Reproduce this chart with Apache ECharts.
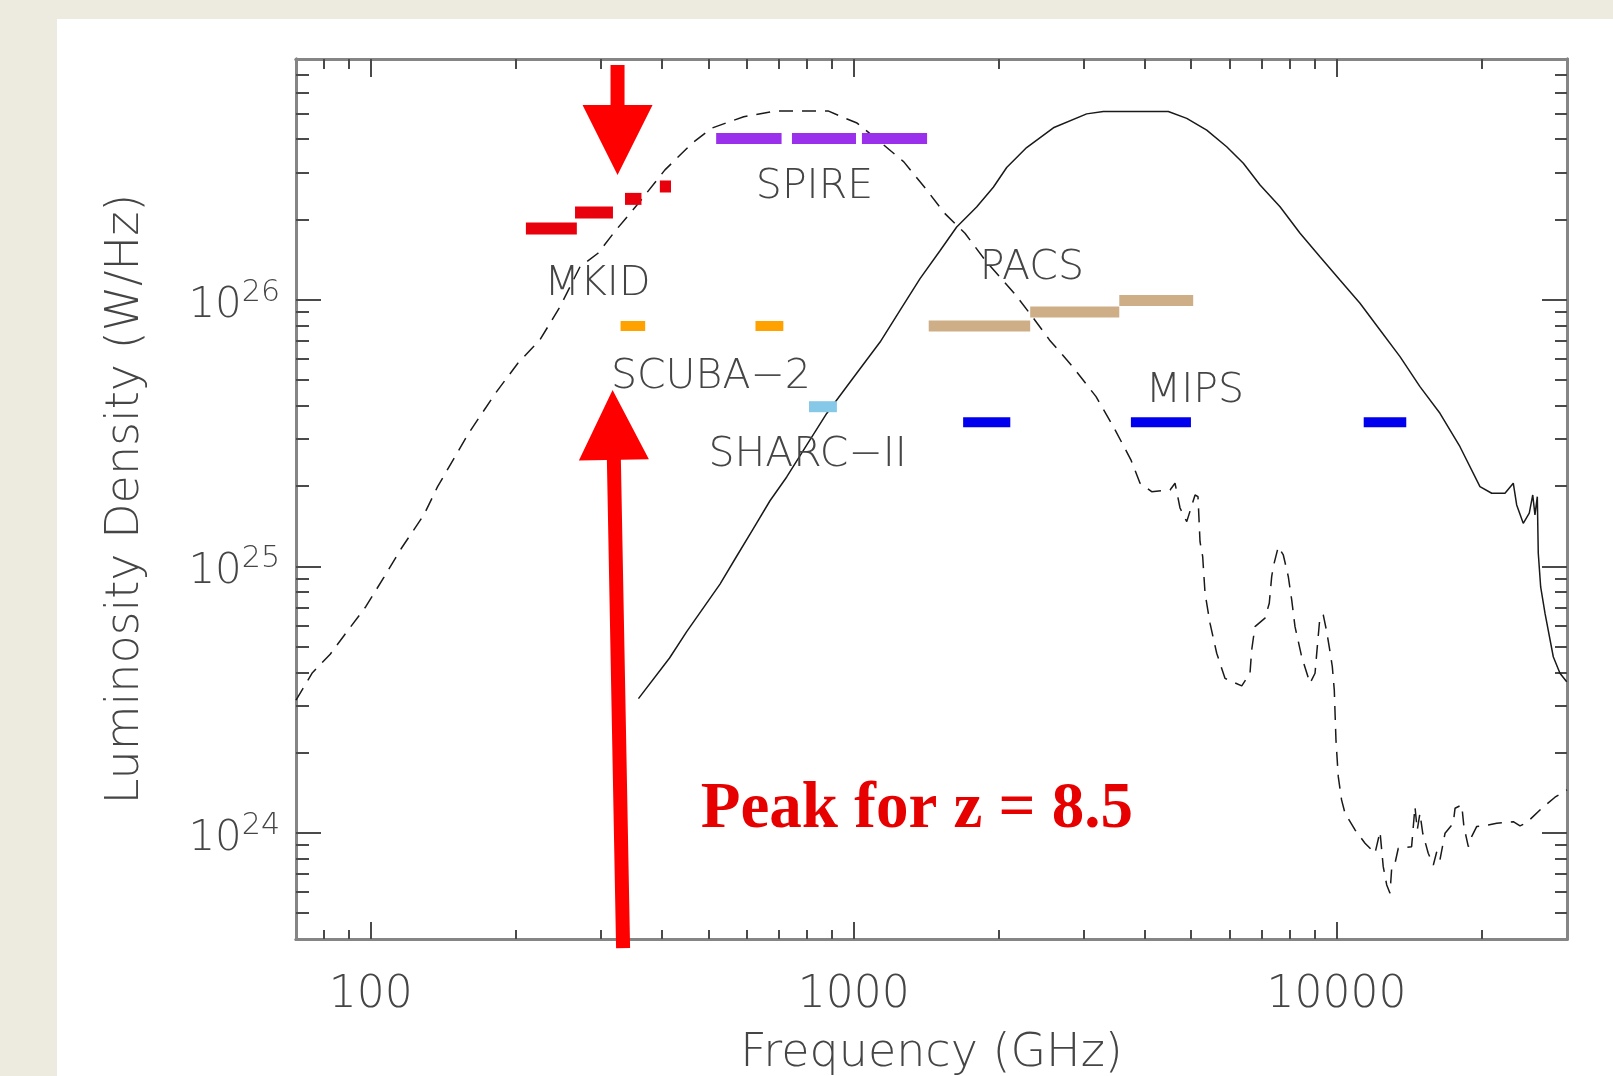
<!DOCTYPE html>
<html>
<head>
<meta charset="utf-8">
<script src="https://cdn.jsdelivr.net/npm/echarts@6/dist/echarts.min.js"></script>
<style>
html,body{margin:0;padding:0;background:#EDEAE0;}
#chart{width:1613px;height:1076px;}
</style>
</head>
<body>
<div id="chart"></div>
<script>
// ---------------- DATA (frequency in GHz, luminosity density in W/Hz) ----------------
// dashed SED (redshifted galaxy template)
const dashedFreq = [70, 75.7, 82.4, 87.9, 97.7, 106.5, 115.9, 128.9, 137.5, 159.5, 181.2, 201.6, 224, 246.5, 271.2, 295.4, 322, 358.3, 406.6, 462.6, 507.8, 591.9, 689.5, 884.8, 962.1, 1016, 1123, 1270, 1398, 1543, 1700, 1870, 2151, 2371, 2543, 2841, 3176, 3450, 3750, 3917, 4141, 4519, 4628, 4740, 4894, 5092, 5164, 5214, 5281, 5340, 5468, 5646, 5873, 6362, 6617, 6671, 6776, 7107, 7254, 7338, 7394, 7573, 7756, 7943, 8073, 8201, 8467, 8809, 9023, 9120, 9238, 9384, 9539, 9690, 9797, 9890, 9970, 10080, 10240, 10410, 10920, 11450, 12010, 12300, 12490, 12700, 12900, 13010, 13210, 13420, 14300, 14530, 14690, 14880, 15080, 15480, 15860, 16120, 16370, 16770, 17440, 17590, 18160, 18350, 18740, 19040, 19500, 20610, 21460, 23220, 23980, 24750, 26590, 28330, 30000];
const dashedLum = [3.15e24, 3.99e24, 4.68e24, 5.48e24, 7.07e24, 9.11e24, 1.174e25, 1.563e25, 1.99e25, 3.16e25, 4.46e25, 5.78e25, 7.07e25, 9.42e25, 1.33e26, 1.494e26, 1.827e26, 2.30e26, 3.07e26, 3.86e26, 4.40e26, 4.86e26, 5.11e26, 5.11e26, 4.79e26, 4.60e26, 3.97e26, 3.29e26, 2.66e26, 2.11e26, 1.776e26, 1.41e26, 1.057e26, 8.40e25, 7.07e25, 5.61e25, 4.33e25, 3.34e25, 2.51e25, 2.05e25, 1.906e25, 1.934e25, 2.05e25, 1.655e25, 1.471e25, 1.852e25, 1.825e25, 1.237e25, 1.087e25, 7.93e24, 6.12e24, 4.72e24, 3.80e24, 3.56e24, 3.97e24, 4.86e24, 5.94e24, 6.39e24, 7.27e24, 9.15e24, 9.97e24, 1.185e25, 1.103e25, 9.15e24, 7.48e24, 5.94e24, 4.58e24, 3.64e24, 3.97e24, 4.99e24, 6.48e24, 6.57e24, 5.69e24, 4.79e24, 4.21e24, 3.44e24, 2.23e24, 1.626e24, 1.33e24, 1.185e24, 1.026e24, 9.15e23, 8.39e23, 1.011e24, 7.47e23, 6.38e23, 5.94e23, 7.47e23, 7.69e23, 8.76e23, 8.88e23, 1.254e24, 1.026e24, 1.185e24, 9.97e23, 8.39e23, 7.58e23, 8.50e23, 7.92e23, 9.97e23, 1.087e24, 1.237e24, 1.273e24, 1.056e24, 8.88e23, 9.68e23, 1.056e24, 1.071e24, 1.087e24, 1.102e24, 1.062e24, 1.093e24, 1.237e24, 1.361e24, 1.449e24];
// solid SED (local galaxy template)
const solidFreq = [358.3, 415.6, 451.0, 528.6, 572.3, 619.7, 670.9, 726.6, 799.1, 879.2, 998.1, 1134, 1247, 1372, 1509, 1634, 1797, 1946, 2074, 2281, 2591, 3037, 3288, 4482, 4894, 5383, 5921, 6410, 6942, 7636, 8401, 9238, 10160, 11180, 12300, 13530, 14880, 16370, 18010, 19810, 20950, 22320, 23220, 23600, 24350, 25060, 25480, 25750, 26040, 26160, 26460, 27010, 28100, 29010, 29960];
const solidLum = [3.19e24, 4.53e24, 5.69e24, 8.58e24, 1.091e25, 1.386e25, 1.762e25, 2.164e25, 2.848e25, 3.745e25, 5.10e25, 6.94e25, 9.13e25, 1.20e26, 1.527e26, 1.875e26, 2.227e26, 2.642e26, 3.135e26, 3.723e26, 4.416e26, 4.98e26, 5.08e26, 5.08e26, 4.79e26, 4.33e26, 3.75e26, 3.25e26, 2.695e26, 2.234e26, 1.776e26, 1.451e26, 1.186e26, 9.70e25, 7.70e25, 6.12e25, 4.72e25, 3.75e25, 2.81e25, 1.99e25, 1.88e25, 1.88e25, 2.05e25, 1.70e25, 1.45e25, 1.582e25, 1.852e25, 1.559e25, 1.825e25, 1.119e25, 8.37e24, 6.67e24, 4.58e24, 3.97e24, 3.69e24];

// instrument bands: [freqLow, freqHigh, level]
const mkidBands  = [[209.5, 267.1, 1.85e26], [264.8, 317.3, 2.125e26], [336, 363.5, 2.39e26], [396.8, 418.5, 2.66e26]];
const spireBands = [[519, 709, 4.03e26], [745, 1011, 4.03e26], [1040, 1419, 4.03e26]];
const scubaBands = [[329, 370, 7.97e25], [626, 715, 7.97e25]];
const pacsBands  = [[1430, 2320, 7.97e25], [2320, 3548, 9.0e25], [3548, 5047, 9.94e25]];
const sharcBands = [[808, 923, 3.97e25]];
const mipsBands  = [[1685, 2110, 3.47e25], [3750, 4993, 3.47e25], [11380, 13940, 3.47e25]];

// text annotations: name + [freq, level]
const labelNames = ['SPIRE', 'MKID', 'PACS', 'SCUBA\u22122', 'MIPS', 'SHARC\u2212II'];
const labelFreq  = [829.4, 294.8, 2339, 506.2, 5089, 803];
const labelLum   = [2.74e26, 1.186e26, 1.36e26, 5.30e25, 4.69e25, 2.69e25];
const peakText = 'Peak for z = 8.5';
const peakPos = [1352, 1.273e24];

// arrows: [tailFreq, tailLum, tipFreq, tipLum]
const arrows = [[324.3, 7.6e26, 324.3, 2.94e26], [333, 3.70e23, 316.7, 4.59e25]];

// axes
const xRange = [70, 30000];
const yRange = [4e23, 8e26];
const xMajorTicks = [100, 1000, 10000];
const xMinorTicks = [80, 90, 200, 300, 400, 500, 600, 700, 800, 900, 2000, 3000, 4000, 5000, 6000, 7000, 8000, 9000, 20000];
const yMajorTicks = [1e24, 1e25, 1e26];
const yMinorTicks = [5e23, 6e23, 7e23, 8e23, 9e23, 2e24, 3e24, 4e24, 5e24, 6e24, 7e24, 8e24, 9e24, 2e25, 3e25, 4e25, 5e25, 6e25, 7e25, 8e25, 9e25, 2e26, 3e26, 4e26, 5e26, 6e26, 7e26];
const xTitle = 'Frequency (GHz)';
const yTitle = 'Luminosity Density (W/Hz)';

// ---------------- CHART ----------------
const FONT = 'DejaVu Sans';
const TXT = '#454545';
const AXIS_COLOR = '#858585';
const TICK_COLOR = '#4a4a4a';

function zip(a, b) { return a.map((v, i) => [v, b[i]]); }

function xAxisDef(pos, ticks, len, withLabel) {
  return {
    type: 'log', logBase: 10, min: xRange[0], max: xRange[1], position: pos, gridIndex: 0,
    axisLine: { show: true, onZero: false, lineStyle: { color: AXIS_COLOR, width: 3 } },
    axisTick: { show: true, inside: true, length: len, customValues: ticks, lineStyle: { color: TICK_COLOR, width: 2 } },
    axisLabel: withLabel ? {
      show: true, customValues: ticks, margin: 35,
      fontFamily: FONT, fontSize: 44, color: TXT, fontWeight: 200,
      formatter: v => String(Math.round(v))
    } : { show: false },
    splitLine: { show: false }, minorTick: { show: false }, minorSplitLine: { show: false },
    name: withLabel ? xTitle : '', nameLocation: 'middle', nameGap: 92,
    nameTextStyle: { fontFamily: FONT, fontSize: 46, color: TXT, fontWeight: 200 }
  };
}
function yAxisDef(pos, ticks, len, withLabel) {
  return {
    type: 'log', logBase: 10, min: yRange[0], max: yRange[1], position: pos, gridIndex: 0,
    axisLine: { show: true, onZero: false, lineStyle: { color: AXIS_COLOR, width: 3 } },
    axisTick: { show: true, inside: true, length: len, customValues: ticks, lineStyle: { color: TICK_COLOR, width: 2 } },
    axisLabel: withLabel ? {
      show: true, customValues: ticks, margin: 16, padding: [12, 0, 0, 0],
      formatter: v => '{b|10}{s|' + Math.round(Math.log10(v)) + '}',
      rich: {
        b: { fontFamily: FONT, fontSize: 42, color: TXT, fontWeight: 200, lineHeight: 56 },
        s: { fontFamily: FONT, fontSize: 30, color: TXT, fontWeight: 200, lineHeight: 40, verticalAlign: 'top' }
      }
    } : { show: false },
    splitLine: { show: false }, minorTick: { show: false }, minorSplitLine: { show: false },
    name: withLabel ? yTitle : '', nameLocation: 'middle', nameGap: 147,
    nameTextStyle: { fontFamily: FONT, fontSize: 46, color: TXT, fontWeight: 200 }
  };
}

function bandSeries(name, bands, color, h) {
  return {
    type: 'custom', name: name, coordinateSystem: 'cartesian2d', xAxisIndex: 0, yAxisIndex: 0,
    data: bands, encode: { x: [0, 1], y: 2 }, z: 4, silent: true,
    itemStyle: { color: color },
    renderItem: function (params, api) {
      const a = api.coord([api.value(0), api.value(2)]);
      const b = api.coord([api.value(1), api.value(2)]);
      return { type: 'rect', shape: { x: a[0], y: a[1] - h / 2, width: b[0] - a[0], height: h }, style: { fill: color } };
    }
  };
}

const chart = echarts.init(document.getElementById('chart'), null, { renderer: 'canvas' });
const option = {
  animation: false,
  backgroundColor: '#EDEAE0',
  graphic: [{ type: 'rect', left: 57, top: 19, shape: { width: 1556, height: 1057 }, style: { fill: '#ffffff' }, z: -10, silent: true }],
  grid: { left: 296, top: 59, width: 1271, height: 880, containLabel: false, outerBoundsMode: 'none' },
  xAxis: [
    xAxisDef('bottom', xMajorTicks, 17, true),
    xAxisDef('bottom', xMinorTicks, 9, false),
    xAxisDef('top', xMajorTicks, 18, false),
    xAxisDef('top', xMinorTicks, 10, false)
  ],
  yAxis: [
    yAxisDef('left', yMajorTicks, 25, true),
    yAxisDef('left', yMinorTicks, 13, false),
    yAxisDef('right', yMajorTicks, 25, false),
    yAxisDef('right', yMinorTicks, 12, false)
  ],
  series: [
    {
      type: 'line', name: 'dashed', xAxisIndex: 0, yAxisIndex: 0, data: zip(dashedFreq, dashedLum),
      showSymbol: false, symbol: 'none', z: 3, silent: true,
      lineStyle: { color: '#1a1a1a', width: 1.5, type: [14, 9] }
    },
    {
      type: 'line', name: 'solid', xAxisIndex: 0, yAxisIndex: 0, data: zip(solidFreq, solidLum),
      showSymbol: false, symbol: 'none', z: 3, silent: true,
      lineStyle: { color: '#1a1a1a', width: 1.5 }
    },
    bandSeries('MKID', mkidBands, '#E8000C', 12),
    bandSeries('SPIRE', spireBands, '#9A30EC', 11),
    bandSeries('SCUBA-2', scubaBands, '#FFA200', 10),
    bandSeries('PACS', pacsBands, '#CDAE86', 11),
    bandSeries('SHARC-II', sharcBands, '#86C8E8', 11),
    bandSeries('MIPS', mipsBands, '#0000EE', 10),
    {
      type: 'custom', name: 'labels', xAxisIndex: 0, yAxisIndex: 0, z: 5, silent: true,
      data: zip(labelFreq, labelLum), encode: { x: 0, y: 1 },
      renderItem: function (params, api) {
        const p = api.coord([api.value(0), api.value(1)]);
        return { type: 'text', x: p[0], y: p[1] + 4, style: {
          text: labelNames[params.dataIndex], fill: TXT, fontFamily: FONT, fontSize: 41, fontWeight: 200,
          align: 'center', verticalAlign: 'middle' } };
      }
    },
    {
      type: 'custom', name: 'peak', xAxisIndex: 0, yAxisIndex: 0, z: 6, silent: true,
      data: [peakPos], encode: { x: 0, y: 1 },
      renderItem: function (params, api) {
        const p = api.coord([api.value(0), api.value(1)]);
        return { type: 'text', x: p[0], y: p[1] + 5, style: {
          text: peakText, fill: '#E60000', fontFamily: 'Liberation Serif', fontSize: 65, fontWeight: 'bold',
          align: 'center', verticalAlign: 'middle' } };
      }
    },
    {
      type: 'custom', name: 'arrows', xAxisIndex: 0, yAxisIndex: 0, z: 7, silent: true, clip: false,
      data: arrows, encode: { x: [0, 2], y: [1, 3] },
      renderItem: function (params, api) {
        const t = api.coord([api.value(0), api.value(1)]);
        const p = api.coord([api.value(2), api.value(3)]);
        const dx = p[0] - t[0], dy = p[1] - t[1];
        const len = Math.sqrt(dx * dx + dy * dy);
        const ux = dx / len, uy = dy / len, nx = -uy, ny = ux;
        const hw = 7, HW = 35, HL = 70;
        const bx = p[0] - ux * HL, by = p[1] - uy * HL;
        const pts = [
          [t[0] + nx * hw, t[1] + ny * hw], [bx + nx * hw, by + ny * hw], [bx + nx * HW, by + ny * HW],
          [p[0], p[1]],
          [bx - nx * HW, by - ny * HW], [bx - nx * hw, by - ny * hw], [t[0] - nx * hw, t[1] - ny * hw]
        ];
        return { type: 'polygon', shape: { points: pts }, style: { fill: '#FF0000' } };
      }
    }
  ]
};
chart.setOption(option);
</script>
</body>
</html>
